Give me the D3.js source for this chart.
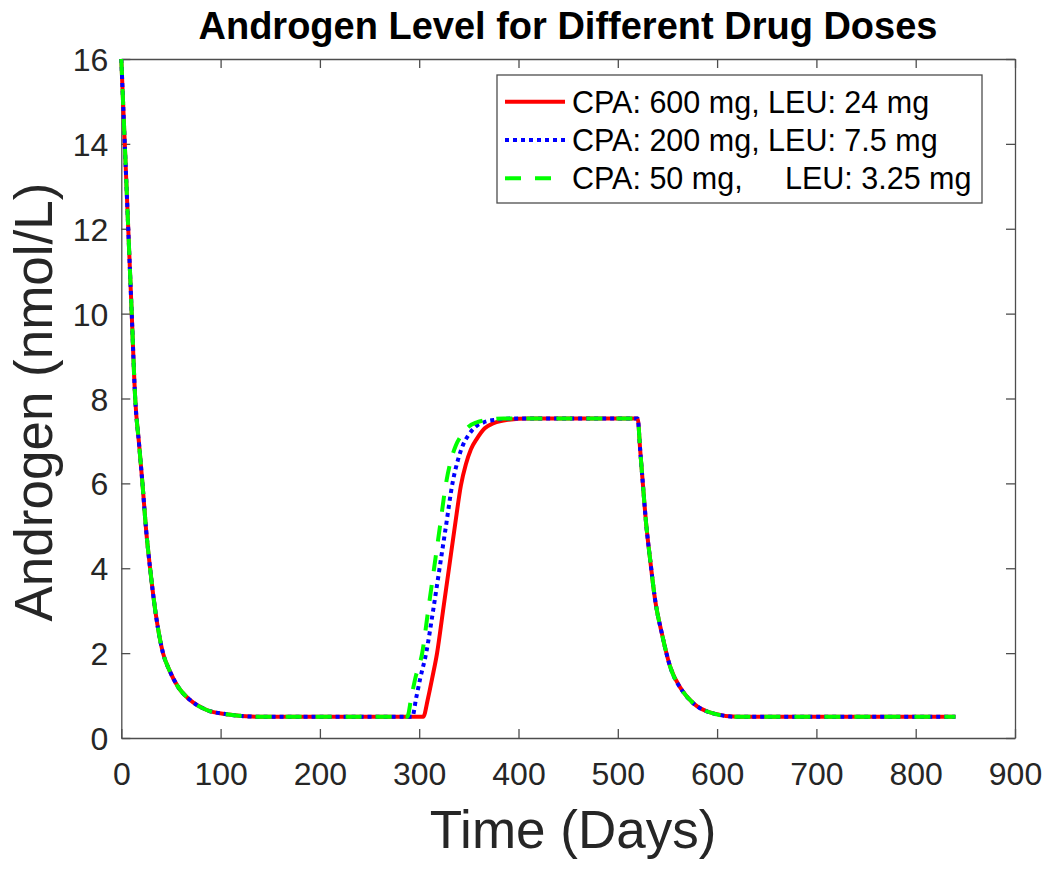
<!DOCTYPE html>
<html>
<head>
<meta charset="utf-8">
<script src="https://cdn.jsdelivr.net/npm/d3@7"></script>
<style>
  html, body { margin: 0; padding: 0; background: #ffffff; }
  svg { display: block; }
  text { font-family: "Liberation Sans", Arial, Helvetica, sans-serif; }
</style>
</head>
<body>
<script>
// ---------------- DATA ----------------
const xTicks = [0, 100, 200, 300, 400, 500, 600, 700, 800, 900];
const yTicks = [0, 2, 4, 6, 8, 10, 12, 14, 16];

// shared initial decay (all three doses coincide)
const decayT = [0, 3.5, 7, 10.5, 14, 18, 21.3, 25, 29, 34.6, 42, 48.4, 57, 69, 86, 106, 140, 200, 250];
const decayV = [16, 14, 12, 10, 8, 6.9, 6, 4.9, 4, 2.94, 2, 1.6, 1.21, 0.9, 0.66, 0.56, 0.5, 0.5, 0.5];

// rise phase, per dose
const riseT_600 = [304, 309, 313, 318, 324, 330, 336, 342, 347, 352, 358, 366, 375, 390, 410];
const riseV_600 = [0.5, 0.95, 1.4, 2.0, 3.0, 4.0, 5.0, 5.95, 6.45, 6.8, 7.05, 7.3, 7.42, 7.5, 7.53];
const riseT_200 = [293, 297, 301, 307, 314, 320.5, 327, 333.5, 339, 344, 350, 357, 365, 378, 395];
const riseV_200 = [0.5, 0.95, 1.4, 2.0, 3.0, 4.0, 5.0, 6.0, 6.55, 6.9, 7.15, 7.34, 7.44, 7.5, 7.53];
const riseT_50  = [288, 292, 296, 303, 309, 315, 321, 327, 332, 337, 343, 350, 358, 370, 385];
const riseV_50  = [0.5, 0.95, 1.4, 2.0, 3.0, 4.0, 5.0, 6.0, 6.55, 6.9, 7.15, 7.34, 7.44, 7.5, 7.53];

// shared plateau end and fall
const fallT = [520, 522.5, 525.2, 528.5, 532.6, 537.6, 544.3, 552.7, 564.5, 576, 596, 620, 700, 840];
const fallV = [7.53, 6.8, 6.0, 5.06, 4.2, 3.25, 2.47, 1.68, 1.13, 0.82, 0.58, 0.5, 0.5, 0.5];

const seriesNames = ["CPA: 600 mg, LEU: 24 mg", "CPA: 200 mg, LEU: 7.5 mg", "CPA: 50 mg,     LEU: 3.25 mg"];
const seriesColors = ["#ff0000", "#0000ff", "#00ff00"];
const seriesDash = [null, "4,4", "16,14"];

// ---------------- BUILD ----------------
function buildSeries(rt, rv) {
  const pts = [];
  decayT.forEach((t, i) => pts.push([t, decayV[i]]));
  rt.forEach((t, i) => pts.push([t, rv[i]]));
  fallT.forEach((t, i) => pts.push([t, fallV[i]]));
  return pts;
}
const series = [
  buildSeries(riseT_600, riseV_600),
  buildSeries(riseT_200, riseV_200),
  buildSeries(riseT_50, riseV_50)
];

const W = 1050, H = 870;
const L = 121.3, R = 1015, T = 59, B = 738;
const axisColor = "#4d4d4d";
const textColor = "#262626";

const svg = d3.select("body").append("svg").attr("width", W).attr("height", H);
svg.append("rect").attr("width", W).attr("height", H).attr("fill", "#ffffff");

const x = d3.scaleLinear().domain([0, 900]).range([L, R]);
const y = d3.scaleLinear().domain([0, 16]).range([B, T]);

// axes
function styleAxis(g) {
  g.selectAll("path.domain").attr("stroke", axisColor).attr("stroke-width", 1.3);
  g.selectAll(".tick line").attr("stroke", axisColor).attr("stroke-width", 1.3);
  g.selectAll(".tick text").attr("fill", textColor).attr("font-size", 32)
    .attr("font-family", "'Liberation Sans', Arial, Helvetica, sans-serif");
}

svg.append("g").attr("transform", `translate(0,${B})`)
  .call(d3.axisBottom(x).tickValues(xTicks).tickSizeInner(-9).tickSizeOuter(0).tickPadding(24))
  .call(styleAxis);
svg.append("g").attr("transform", `translate(0,${T})`)
  .call(d3.axisTop(x).tickValues(xTicks).tickSizeInner(-9).tickSizeOuter(0).tickFormat(""))
  .call(styleAxis);
svg.append("g").attr("transform", `translate(${L},0)`)
  .call(d3.axisLeft(y).tickValues(yTicks).tickSizeInner(-9).tickSizeOuter(0).tickPadding(13))
  .call(styleAxis)
  .selectAll(".tick text").attr("dy", "0.36em");
svg.append("g").attr("transform", `translate(${R},0)`)
  .call(d3.axisRight(y).tickValues(yTicks).tickSizeInner(-9).tickSizeOuter(0).tickFormat(""))
  .call(styleAxis);

// lines
const line = d3.line().x(d => x(d[0])).y(d => y(d[1])).curve(d3.curveMonotoneX);
series.forEach((s, i) => {
  svg.append("path")
    .datum(s)
    .attr("d", line)
    .attr("fill", "none")
    .attr("stroke", seriesColors[i])
    .attr("stroke-width", 4)
    .attr("stroke-linejoin", "round")
    .attr("stroke-dasharray", seriesDash[i]);
});

// title & labels
svg.append("text").attr("x", 568).attr("y", 39).attr("text-anchor", "middle")
  .attr("font-size", 38).attr("font-weight", "bold").attr("fill", "#000")
  .text("Androgen Level for Different Drug Doses");
svg.append("text").attr("x", 573).attr("y", 848).attr("text-anchor", "middle")
  .attr("font-size", 53).attr("fill", textColor).text("Time (Days)");
svg.append("text").attr("transform", "translate(52,402) rotate(-90)").attr("text-anchor", "middle")
  .attr("font-size", 53).attr("fill", textColor).text("Androgen (nmol/L)");

// legend
const lg = svg.append("g");
lg.append("rect").attr("x", 497).attr("y", 75).attr("width", 485).attr("height", 128)
  .attr("fill", "#fff").attr("stroke", axisColor).attr("stroke-width", 1.3);
const rowY = [101.7, 140, 178.3];
seriesNames.forEach((name, i) => {
  lg.append("line").attr("x1", 505).attr("x2", 565).attr("y1", rowY[i]).attr("y2", rowY[i])
    .attr("stroke", seriesColors[i]).attr("stroke-width", 4)
    .attr("stroke-dasharray", seriesDash[i]);
  lg.append("text").attr("x", 572).attr("y", rowY[i]).attr("dy", "0.36em")
    .attr("font-size", 30.5).attr("fill", "#000").style("white-space", "pre")
    .text(name);
});
</script>
</body>
</html>
